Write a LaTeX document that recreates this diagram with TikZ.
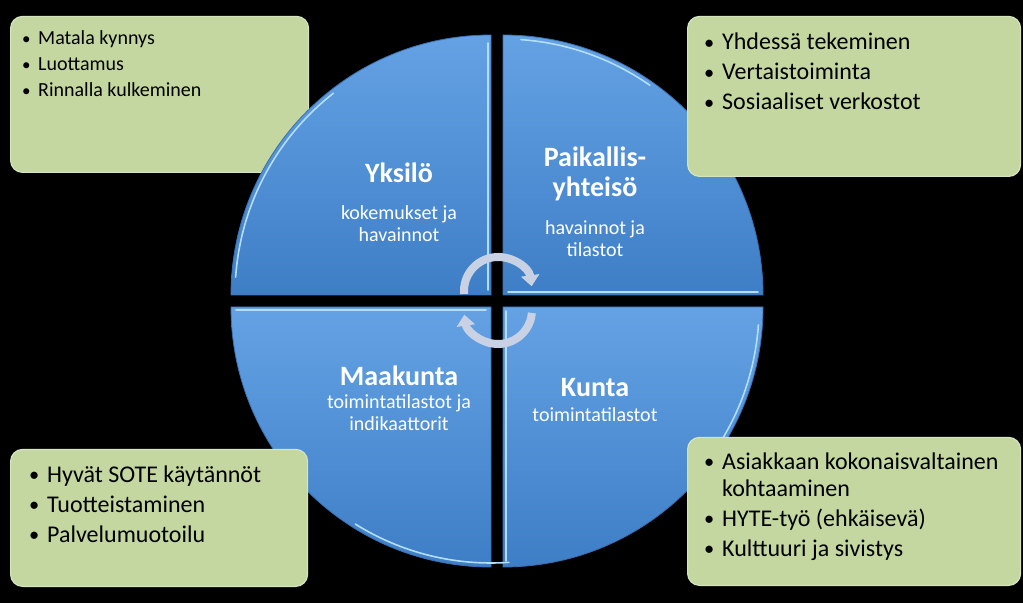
\documentclass[tikz,border=0pt]{standalone}
\usepackage{fontspec}
\usepackage{graphicx}
\setmainfont{Carlito}
\usetikzlibrary{arrows.meta}
\definecolor{boxfill}{RGB}{196,215,160}
\definecolor{boxedge}{RGB}{214,228,192}
\definecolor{qtop}{RGB}{100,162,228}
\definecolor{qbot}{RGB}{62,126,198}
\definecolor{qedge}{RGB}{58,112,178}
\definecolor{qhi}{RGB}{178,222,250}
\definecolor{arrowc}{RGB}{200,210,228}
\newcommand{\bul}[1]{\makebox[#1][l]{\raisebox{0.5pt}{\scalebox{0.85}{\textbullet}}}}
\begin{document}
\begin{tikzpicture}[x=1pt,y=1pt,
  greenbox/.style={fill=boxfill, draw=boxedge, line width=1.2pt, rounded corners=12pt, anchor=south west, inner sep=0},
  quad/.style={top color=qtop, bottom color=qbot, draw=qedge, line width=0.8pt},
  hilite/.style={draw=qhi, line width=1.6pt, line cap=round},
  title/.style={text=white, font=\bfseries\fontsize{28}{30}\selectfont, anchor=base, inner sep=0},
  sub/.style={text=white, font=\fontsize{20}{22}\selectfont, anchor=base, inner sep=0},
  cyc/.style={draw=arrowc, line width=8pt, -{Triangle[width=18pt,length=11pt]}},
  list/.style={anchor=base west, inner sep=0, text=black}
]
\fill[black] (0,0) rectangle (1023,603);
\useasboundingbox (0,0) rectangle (1023,603);

% top-left box (behind the circle)
\node[greenbox, minimum width=298pt, minimum height=156pt] (tlbox) at (10,430) {};
\node[list, font=\fontsize{20}{26}\selectfont] (tllist) at (22,558)
  {\begin{tabular}[t]{@{}l@{}}\bul{16pt}Matala kynnys\\ \bul{16pt}Luottamus\\ \bul{16pt}Rinnalla kulkeminen\end{tabular}};

% quadrants
\path[quad] (491,308) -- ++(-260,0) arc[start angle=180, end angle=90, radius=260] -- cycle;
\path[quad] (503,308) -- ++(0,260) arc[start angle=90, end angle=0, radius=260] -- cycle;
\path[quad] (503,296) -- ++(260,0) arc[start angle=0, end angle=-90, radius=260] -- cycle;
\path[quad] (491,296) -- ++(0,-260) arc[start angle=270, end angle=180, radius=260] -- cycle;

% bevel highlights
\draw[hilite] (491,308) ++(176:256) arc[start angle=176, end angle=128, radius=256];
\draw[hilite] (488,313) -- (488,560);
\draw[hilite] (503,308) ++(86:256) arc[start angle=86, end angle=55, radius=256];
\draw[hilite] (508,311) -- (758,311);
\draw[hilite] (506,292) -- (506,42);
\draw[hilite] (503,296) ++(-4:256) arc[start angle=-4, end angle=-38, radius=256];
\draw[hilite] (236,293) -- (486,293);
\draw[hilite] (491,296) ++(-86:256) arc[start angle=-86, end angle=-122, radius=256];

% quadrant labels
\node[title] (t1) at (399,420) {Yksilö};
\node[sub] (s1) at (399,383) {\begin{tabular}[t]{@{}c@{}}kokemukset ja\\ havainnot\end{tabular}};
\node[title] (t2) at (595,436) {\begin{tabular}[t]{@{}c@{}}Paikallis-\\ yhteisö\end{tabular}};
\node[sub] (s2) at (595,368) {\begin{tabular}[t]{@{}c@{}}havainnot ja\\ tilastot\end{tabular}};
\node[title] (t3) at (399,217) {Maakunta};
\node[sub] (s3) at (399,194) {\begin{tabular}[t]{@{}c@{}}toimintatilastot ja\\ indikaattorit\end{tabular}};
\node[title] (t4) at (595,206) {Kunta};
\node[sub] (s4) at (595,182) {toimintatilastot};

% cycle arrows
\draw[cyc] (498,312) ++(185:34) arc[start angle=185, end angle=8, radius=34];
\draw[cyc] (498,293) ++(-5:34) arc[start angle=-5, end angle=-172, radius=34];

% other boxes (in front of the circle)
\node[greenbox, minimum width=333pt, minimum height=160pt] (trbox) at (687,426) {};
\node[list, font=\fontsize{24}{30}\selectfont] (trlist) at (704,553)
  {\begin{tabular}[t]{@{}l@{}}\bul{18pt}Yhdessä tekeminen\\ \bul{18pt}Vertaistoiminta\\ \bul{18pt}Sosiaaliset verkostot\end{tabular}};

\node[greenbox, minimum width=297pt, minimum height=137pt] (blbox) at (10,16) {};
\node[list, font=\fontsize{24}{30}\selectfont] (bllist) at (29,121)
  {\begin{tabular}[t]{@{}l@{}}\bul{18pt}Hyvät SOTE käytännöt\\ \bul{18pt}Tuotteistaminen\\ \bul{18pt}Palvelumuotoilu\end{tabular}};

\node[greenbox, minimum width=333pt, minimum height=148pt] (brbox) at (687,17) {};
\node[list, font=\fontsize{24}{27}\selectfont] (brlist) at (704,134)
  {\begin{tabular}[t]{@{}l@{}}\bul{18pt}Asiakkaan kokonaisvaltainen\\ \hspace{18pt}kohtaaminen\\[3pt] \bul{18pt}HYTE-työ (ehkäisevä)\\[3pt] \bul{18pt}Kulttuuri ja sivistys\end{tabular}};
\end{tikzpicture}
\end{document}
